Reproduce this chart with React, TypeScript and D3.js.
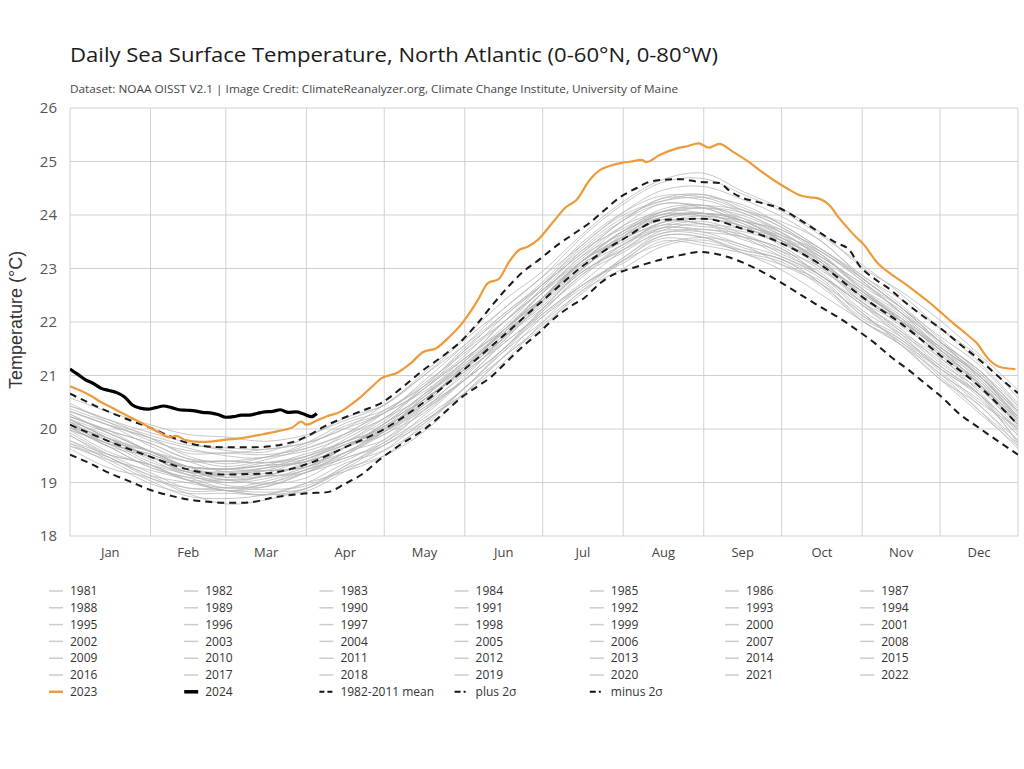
import React from 'react';
import * as d3 from 'd3';

// ---------- axis categories / ticks ----------
const monthLabels = ['Jan', 'Feb', 'Mar', 'Apr', 'May', 'Jun', 'Jul', 'Aug', 'Sep', 'Oct', 'Nov', 'Dec'];
const monthStartDays = [0, 31, 60, 91, 121, 152, 182, 213, 244, 274, 305, 335, 365];
const yTicks = [18, 19, 20, 21, 22, 23, 24, 25, 26];

// ---------- 1982-2011 mean (climatology) ----------
const grayDays = [0, 15, 31, 45, 60, 75, 91, 106, 121, 136, 152, 167, 182, 197, 213, 228, 244, 259, 274, 289, 305, 320, 335, 350, 365];
const meanValues = [20.08, 19.77, 19.48, 19.25, 19.15, 19.17, 19.34, 19.66, 20.0, 20.49, 21.12, 21.75, 22.4, 23.03, 23.55, 23.91, 23.93, 23.74, 23.47, 23.07, 22.47, 21.97, 21.38, 20.8, 20.08];

// ---------- individual years 1981-2022: departure from the mean, read at grayDays ----------
const grayYears = ['1981', '1982', '1983', '1984', '1985', '1986', '1987', '1988', '1989', '1990', '1991', '1992', '1993', '1994', '1995', '1996', '1997', '1998', '1999', '2000', '2001', '2002', '2003', '2004', '2005', '2006', '2007', '2008', '2009', '2010', '2011', '2012', '2013', '2014', '2015', '2016', '2017', '2018', '2019', '2020', '2021', '2022'];
const grayDepartures = [
  [-0.05, -0.1, -0.2, -0.15, -0.25, -0.2, -0.1, -0.15, -0.05, -0.1, -0.2, -0.25, -0.15, -0.1, -0.2, -0.15, -0.05, -0.1, -0.2, -0.15, -0.25, -0.2, -0.1, -0.15, -0.2],
  [-0.2, -0.3, -0.35, -0.4, -0.3, -0.35, -0.45, -0.4, -0.3, -0.35, -0.45, -0.4, -0.3, -0.35, -0.4, -0.45, -0.35, -0.3, -0.4, -0.35, -0.3, -0.4, -0.45, -0.35, -0.4],
  [-0.4, -0.35, -0.25, -0.2, -0.3, -0.25, -0.15, -0.2, -0.3, -0.25, -0.2, -0.15, -0.25, -0.3, -0.2, -0.15, -0.25, -0.3, -0.25, -0.2, -0.3, -0.35, -0.25, -0.2, -0.3],
  [-0.3, -0.35, -0.45, -0.5, -0.45, -0.4, -0.35, -0.45, -0.5, -0.4, -0.35, -0.4, -0.45, -0.5, -0.4, -0.35, -0.45, -0.4, -0.3, -0.35, -0.45, -0.4, -0.35, -0.45, -0.45],
  [-0.45, -0.5, -0.4, -0.45, -0.55, -0.5, -0.45, -0.4, -0.5, -0.55, -0.45, -0.4, -0.5, -0.45, -0.55, -0.5, -0.4, -0.45, -0.5, -0.55, -0.45, -0.4, -0.45, -0.5, -0.4],
  [-0.4, -0.3, -0.35, -0.25, -0.3, -0.4, -0.35, -0.3, -0.4, -0.45, -0.35, -0.3, -0.25, -0.35, -0.4, -0.3, -0.35, -0.45, -0.4, -0.3, -0.35, -0.25, -0.3, -0.35, -0.3],
  [-0.3, -0.25, -0.15, -0.2, -0.25, -0.15, -0.1, -0.2, -0.25, -0.15, -0.2, -0.25, -0.15, -0.1, -0.2, -0.25, -0.2, -0.15, -0.1, -0.2, -0.15, -0.2, -0.25, -0.15, -0.1],
  [-0.1, -0.05, -0.15, -0.2, -0.1, -0.05, -0.15, -0.1, -0.05, -0.15, -0.2, -0.1, -0.05, -0.1, -0.15, -0.05, -0.1, -0.2, -0.15, -0.05, -0.1, -0.15, -0.05, -0.1, -0.15],
  [-0.15, -0.25, -0.3, -0.35, -0.25, -0.3, -0.4, -0.35, -0.25, -0.3, -0.35, -0.25, -0.3, -0.4, -0.35, -0.25, -0.3, -0.35, -0.3, -0.25, -0.35, -0.3, -0.25, -0.3, -0.05],
  [-0.05, 0.0, -0.1, -0.05, 0.05, -0.05, -0.1, 0.0, 0.05, -0.05, -0.1, -0.05, 0.05, 0.0, -0.1, -0.05, 0.0, 0.05, -0.05, -0.1, 0.0, -0.05, 0.05, 0.0, -0.1],
  [-0.1, -0.2, -0.15, -0.1, -0.2, -0.25, -0.15, -0.1, -0.2, -0.15, -0.05, -0.15, -0.2, -0.15, -0.1, -0.2, -0.25, -0.15, -0.1, -0.2, -0.15, -0.25, -0.2, -0.15, -0.35],
  [-0.35, -0.4, -0.5, -0.45, -0.35, -0.4, -0.5, -0.45, -0.4, -0.35, -0.45, -0.5, -0.4, -0.35, -0.45, -0.4, -0.5, -0.45, -0.35, -0.4, -0.45, -0.35, -0.4, -0.45, -0.35],
  [-0.35, -0.3, -0.4, -0.35, -0.3, -0.4, -0.45, -0.35, -0.3, -0.4, -0.35, -0.3, -0.4, -0.45, -0.35, -0.3, -0.35, -0.4, -0.3, -0.35, -0.4, -0.3, -0.35, -0.25, -0.2],
  [-0.2, -0.25, -0.15, -0.2, -0.3, -0.2, -0.15, -0.25, -0.2, -0.1, -0.2, -0.25, -0.2, -0.15, -0.25, -0.2, -0.1, -0.15, -0.25, -0.2, -0.15, -0.1, -0.15, -0.05, 0.0],
  [0.0, 0.05, 0.1, 0.0, -0.05, 0.05, 0.1, 0.05, 0.0, 0.1, 0.15, 0.05, 0.0, 0.1, 0.05, 0.15, 0.2, 0.1, 0.05, 0.0, 0.1, 0.05, 0.0, 0.05, -0.05],
  [-0.05, -0.1, -0.2, -0.15, -0.1, -0.2, -0.25, -0.15, -0.1, -0.2, -0.15, -0.05, -0.15, -0.2, -0.1, -0.15, -0.2, -0.1, -0.15, -0.2, -0.1, -0.15, -0.2, -0.15, -0.1],
  [-0.1, -0.05, 0.0, -0.1, -0.15, -0.05, 0.0, -0.1, -0.05, 0.05, -0.05, -0.1, 0.0, 0.05, -0.05, -0.1, 0.0, 0.05, 0.1, 0.0, -0.05, 0.05, 0.1, 0.05, 0.1],
  [0.15, 0.2, 0.1, 0.15, 0.25, 0.2, 0.1, 0.15, 0.2, 0.1, 0.15, 0.25, 0.2, 0.1, 0.15, 0.2, 0.25, 0.15, 0.1, 0.2, 0.15, 0.1, 0.15, 0.2, 0.1],
  [0.05, 0.0, 0.1, 0.05, -0.05, 0.0, 0.1, 0.05, 0.0, 0.1, 0.05, -0.05, 0.05, 0.1, 0.0, 0.05, 0.1, 0.15, 0.05, 0.0, 0.1, 0.05, 0.0, 0.05, 0.0],
  [-0.05, -0.1, 0.0, -0.05, -0.15, -0.1, -0.05, 0.0, -0.1, -0.05, 0.05, 0.0, -0.1, -0.05, 0.0, -0.1, -0.15, -0.05, 0.0, -0.05, -0.1, 0.0, -0.05, 0.0, 0.05],
  [0.05, 0.1, 0.0, 0.05, 0.1, 0.15, 0.05, 0.0, 0.1, 0.05, 0.0, 0.1, 0.15, 0.05, 0.0, 0.05, 0.1, 0.05, 0.0, 0.1, 0.15, 0.05, 0.1, 0.05, 0.0],
  [0.0, -0.05, 0.05, 0.0, -0.1, -0.05, 0.05, 0.1, 0.0, -0.05, 0.05, 0.1, 0.0, -0.05, 0.05, 0.0, -0.1, 0.0, 0.05, 0.1, 0.0, 0.05, 0.1, 0.05, 0.1],
  [0.1, 0.05, 0.0, 0.05, 0.1, 0.15, 0.2, 0.1, 0.15, 0.25, 0.2, 0.1, 0.15, 0.2, 0.25, 0.15, 0.2, 0.3, 0.2, 0.15, 0.25, 0.2, 0.15, 0.2, 0.15],
  [0.1, 0.05, 0.0, -0.05, 0.05, 0.1, 0.05, 0.0, 0.1, 0.15, 0.05, 0.0, 0.05, 0.1, 0.15, 0.05, 0.1, 0.2, 0.15, 0.05, 0.1, 0.05, 0.15, 0.2, 0.15],
  [0.15, 0.2, 0.25, 0.2, 0.15, 0.25, 0.3, 0.25, 0.2, 0.3, 0.35, 0.25, 0.2, 0.3, 0.35, 0.3, 0.25, 0.35, 0.3, 0.25, 0.3, 0.2, 0.25, 0.3, 0.25],
  [0.25, 0.3, 0.2, 0.15, 0.25, 0.2, 0.15, 0.25, 0.3, 0.2, 0.15, 0.25, 0.2, 0.15, 0.25, 0.3, 0.2, 0.15, 0.25, 0.2, 0.15, 0.2, 0.25, 0.15, 0.1],
  [0.1, 0.05, 0.0, 0.05, 0.1, 0.05, -0.05, 0.0, 0.1, 0.05, 0.0, 0.1, 0.05, -0.05, 0.05, 0.1, 0.05, 0.0, 0.1, 0.05, 0.0, 0.05, 0.1, 0.05, 0.0],
  [0.0, 0.05, 0.1, 0.15, 0.05, 0.1, 0.15, 0.1, 0.05, 0.15, 0.2, 0.1, 0.05, 0.1, 0.15, 0.1, 0.05, 0.15, 0.2, 0.1, 0.05, 0.1, 0.15, 0.1, 0.05],
  [0.05, 0.0, -0.05, -0.1, 0.0, 0.05, -0.05, -0.1, 0.0, 0.05, 0.0, -0.05, 0.05, 0.1, 0.0, -0.05, 0.05, 0.1, 0.05, 0.15, 0.2, 0.25, 0.2, 0.25, 0.3],
  [0.3, 0.35, 0.4, 0.45, 0.5, 0.45, 0.4, 0.35, 0.45, 0.5, 0.45, 0.4, 0.35, 0.45, 0.5, 0.45, 0.4, 0.35, 0.4, 0.45, 0.35, 0.3, 0.25, 0.2, 0.15],
  [0.1, 0.15, 0.1, 0.05, 0.1, 0.2, 0.15, 0.1, 0.2, 0.25, 0.2, 0.15, 0.25, 0.3, 0.2, 0.15, 0.25, 0.2, 0.15, 0.25, 0.3, 0.2, 0.15, 0.2, 0.25],
  [0.25, 0.3, 0.35, 0.25, 0.2, 0.3, 0.35, 0.4, 0.3, 0.25, 0.35, 0.4, 0.3, 0.25, 0.35, 0.4, 0.45, 0.35, 0.3, 0.25, 0.35, 0.3, 0.25, 0.3, 0.25],
  [0.2, 0.15, 0.1, 0.05, 0.1, 0.15, 0.05, 0.0, 0.1, 0.15, 0.1, 0.05, 0.15, 0.2, 0.1, 0.05, 0.1, 0.15, 0.1, 0.05, 0.1, 0.15, 0.1, 0.05, 0.0],
  [0.0, -0.05, 0.05, 0.0, -0.1, -0.05, 0.0, 0.05, -0.05, 0.0, 0.05, 0.1, 0.05, 0.0, 0.1, 0.15, 0.1, 0.05, 0.15, 0.2, 0.1, 0.05, 0.1, 0.15, 0.1],
  [0.1, 0.05, 0.0, -0.05, 0.0, 0.05, -0.05, 0.0, 0.05, 0.0, 0.1, 0.05, 0.0, 0.1, 0.15, 0.1, 0.2, 0.25, 0.2, 0.15, 0.25, 0.3, 0.25, 0.3, 0.35],
  [0.35, 0.4, 0.35, 0.3, 0.4, 0.35, 0.3, 0.25, 0.35, 0.3, 0.25, 0.35, 0.3, 0.25, 0.35, 0.4, 0.35, 0.3, 0.25, 0.3, 0.35, 0.3, 0.25, 0.2, 0.25],
  [0.25, 0.3, 0.35, 0.4, 0.35, 0.3, 0.4, 0.45, 0.35, 0.3, 0.4, 0.35, 0.3, 0.4, 0.45, 0.35, 0.4, 0.45, 0.35, 0.3, 0.4, 0.35, 0.3, 0.25, 0.2],
  [0.2, 0.15, 0.1, 0.05, 0.0, 0.1, 0.05, 0.0, -0.05, 0.05, 0.0, -0.05, 0.05, 0.1, 0.05, 0.0, 0.1, 0.15, 0.05, 0.0, 0.05, 0.1, 0.05, 0.1, 0.15],
  [0.15, 0.2, 0.25, 0.2, 0.25, 0.3, 0.25, 0.2, 0.3, 0.35, 0.3, 0.25, 0.3, 0.35, 0.4, 0.35, 0.45, 0.4, 0.35, 0.3, 0.35, 0.3, 0.35, 0.4, 0.35],
  [0.35, 0.4, 0.45, 0.5, 0.45, 0.4, 0.5, 0.55, 0.45, 0.5, 0.55, 0.5, 0.45, 0.55, 0.65, 0.7, 0.75, 0.65, 0.6, 0.55, 0.6, 0.55, 0.5, 0.45, 0.4],
  [0.4, 0.35, 0.3, 0.35, 0.4, 0.45, 0.4, 0.35, 0.3, 0.4, 0.45, 0.5, 0.45, 0.4, 0.5, 0.55, 0.6, 0.55, 0.5, 0.45, 0.4, 0.45, 0.5, 0.55, 0.5],
  [0.5, 0.55, 0.6, 0.65, 0.7, 0.6, 0.55, 0.5, 0.45, 0.55, 0.6, 0.65, 0.55, 0.6, 0.7, 0.75, 0.85, 0.7, 0.65, 0.6, 0.55, 0.6, 0.65, 0.6, 0.65],
];

// ---------- 2023 ----------
const days2023 = [0, 4, 8, 12, 16, 20, 24, 28, 31, 35, 38, 41, 44, 50, 55, 60, 66, 73, 80, 86, 89, 91, 95, 99, 104, 108, 112, 116, 120, 126, 131, 136, 141, 146, 151, 154, 157, 161, 165, 169, 173, 176, 180, 186, 191, 195, 200, 204, 208, 212, 216, 220, 222, 227, 234, 238, 242, 246, 250, 255, 262, 266, 271, 276, 281, 285, 288, 293, 296, 299, 303, 305, 311, 316, 321, 326, 331, 336, 340, 345, 349, 354, 358, 364];
const values2023 = [20.8, 20.72, 20.62, 20.5, 20.4, 20.3, 20.2, 20.1, 20.02, 19.92, 19.85, 19.87, 19.8, 19.76, 19.77, 19.8, 19.83, 19.89, 19.96, 20.04, 20.14, 20.08, 20.16, 20.24, 20.32, 20.45, 20.6, 20.78, 20.95, 21.05, 21.22, 21.44, 21.51, 21.72, 21.98, 22.18, 22.41, 22.73, 22.8, 23.12, 23.35, 23.4, 23.53, 23.87, 24.15, 24.28, 24.65, 24.84, 24.92, 24.97, 25.0, 25.03, 24.99, 25.12, 25.25, 25.29, 25.34, 25.26, 25.33, 25.19, 24.97, 24.82, 24.65, 24.5, 24.37, 24.33, 24.31, 24.15, 23.95, 23.78, 23.57, 23.48, 23.1, 22.9, 22.73, 22.55, 22.36, 22.15, 21.98, 21.78, 21.61, 21.29, 21.16, 21.12];

// ---------- 2024 ----------
const days2024 = [0, 3, 6, 9, 12, 15, 18, 21, 24, 27, 30, 33, 36, 39, 42, 45, 48, 51, 54, 57, 60, 63, 66, 69, 72, 75, 78, 81, 84, 87, 90, 93, 95];
const values2024 = [21.12, 21.02, 20.92, 20.85, 20.76, 20.72, 20.68, 20.6, 20.45, 20.39, 20.37, 20.4, 20.43, 20.4, 20.36, 20.35, 20.34, 20.31, 20.3, 20.27, 20.22, 20.23, 20.26, 20.26, 20.29, 20.32, 20.33, 20.36, 20.31, 20.32, 20.28, 20.23, 20.29];

// ---------- plus / minus 2 sigma ----------
const plusDays = [0, 15, 31, 47, 59, 71, 86, 92, 98, 106, 113, 120, 128, 136, 144, 151, 157, 162, 168, 174, 181, 188, 194, 200, 206, 212, 218, 223, 229, 235, 242, 250, 254, 258, 265, 273, 281, 289, 295, 300, 304, 310, 316, 322, 329, 336, 342, 350, 357, 365];
const plusValues = [20.66, 20.32, 20.02, 19.72, 19.66, 19.66, 19.76, 19.88, 20.05, 20.22, 20.35, 20.49, 20.78, 21.1, 21.38, 21.66, 21.98, 22.28, 22.62, 22.92, 23.18, 23.45, 23.65, 23.85, 24.1, 24.34, 24.5, 24.62, 24.66, 24.67, 24.62, 24.6, 24.45, 24.34, 24.24, 24.13, 23.91, 23.66, 23.48, 23.35, 23.05, 22.8, 22.6, 22.35, 22.09, 21.85, 21.61, 21.3, 21.0, 20.67];
const minusDays = [0, 8, 15, 23, 31, 39, 47, 53, 59, 65, 71, 78, 86, 92, 99, 106, 112, 119, 127, 136, 144, 151, 157, 162, 168, 174, 181, 187, 193, 198, 204, 209, 214, 220, 227, 235, 243, 248, 253, 261, 266, 272, 280, 289, 296, 303, 310, 316, 323, 329, 336, 342, 350, 358, 365];
const minusValues = [19.52, 19.35, 19.18, 19.02, 18.86, 18.75, 18.67, 18.64, 18.62, 18.62, 18.64, 18.72, 18.77, 18.8, 18.82, 18.98, 19.14, 19.42, 19.7, 19.98, 20.3, 20.6, 20.8, 20.97, 21.25, 21.53, 21.82, 22.09, 22.3, 22.45, 22.72, 22.88, 22.97, 23.06, 23.16, 23.25, 23.31, 23.28, 23.22, 23.07, 22.95, 22.79, 22.55, 22.28, 22.08, 21.85, 21.6, 21.35, 21.1, 20.86, 20.58, 20.3, 20.02, 19.75, 19.52];

const ORANGE = '#ef9a3a';
const FONT = "'Open Sans', 'DejaVu Sans', sans-serif";

export default function App() {
  const x = d3.scaleLinear().domain([0, 365]).range([70, 1018]);
  const y = d3.scaleLinear().domain([18, 26]).range([536, 108]);

  const line = d3
    .line<[number, number]>()
    .x((d) => x(d[0]))
    .y((d) => y(d[1]))
    .curve(d3.curveCatmullRom.alpha(0.5));
  const lineLin = d3
    .line<[number, number]>()
    .x((d) => x(d[0]))
    .y((d) => y(d[1]))
    .curve(d3.curveMonotoneX);

  const zip = (ds: number[], vs: number[]) => ds.map((d, i) => [d, vs[i]] as [number, number]);

  const grayPaths = grayDepartures.map((row) => line(grayDays.map((d, i) => [d, meanValues[i] + row[i]] as [number, number])) || '');

  const legendColX = (c: number) => 70 + c * 135.2;
  const legendRowY = (r: number) => 591 + r * 16.8;

  type LegendItem = { label: string; kind: string };
  const legendItems: LegendItem[] = [
    ...grayYears.map((yr) => ({ label: yr, kind: 'gray' })),
    { label: '2023', kind: '2023' },
    { label: '2024', kind: '2024' },
    { label: '1982-2011 mean', kind: 'mean' },
    { label: 'plus 2σ', kind: 'plus' },
    { label: 'minus 2σ', kind: 'minus' },
  ];

  const symbol = (kind: string, sx: number, sy: number) => {
    const x1 = sx - 21;
    const x2 = sx - 7;
    if (kind === 'gray') return <line x1={x1} x2={x2} y1={sy} y2={sy} stroke="#cccccc" strokeWidth={1.5} />;
    if (kind === '2023') return <line x1={x1} x2={x2} y1={sy} y2={sy} stroke={ORANGE} strokeWidth={2.5} />;
    if (kind === '2024') return <line x1={x1} x2={x2} y1={sy} y2={sy} stroke="#000" strokeWidth={3.5} />;
    if (kind === 'mean') return <line x1={x1} x2={x2} y1={sy} y2={sy} stroke="#111" strokeWidth={2} strokeDasharray="5,3" />;
    return <line x1={x1} x2={x2} y1={sy} y2={sy} stroke="#111" strokeWidth={2} strokeDasharray="6,3,2,3" />;
  };

  return (
    <svg width={1024} height={769} style={{ position: 'absolute', left: 0, top: 0, background: '#fff' }} fontFamily={FONT}>
      <rect x={0} y={0} width={1024} height={769} fill="#fff" />
      {/* title */}
      <text x={70} y={62} fontSize={20} fontWeight={500} fill="#1a1a1a" textLength={648} lengthAdjust="spacingAndGlyphs">
        Daily Sea Surface Temperature, North Atlantic (0-60°N, 0-80°W)
      </text>
      <text x={70} y={93} fontSize={11} fill="#444" textLength={608} lengthAdjust="spacingAndGlyphs">
        Dataset: NOAA OISST V2.1 | Image Credit: ClimateReanalyzer.org, Climate Change Institute, University of Maine
      </text>

      {/* grid */}
      {yTicks.map((t) => (
        <line key={'h' + t} x1={70} x2={1018} y1={y(t)} y2={y(t)} stroke="#d0d0d0" strokeWidth={1} />
      ))}
      {monthStartDays.map((d) => (
        <line key={'v' + d} x1={x(d)} x2={x(d)} y1={y(26)} y2={y(18)} stroke="#d0d0d0" strokeWidth={1} />
      ))}

      {/* y tick labels */}
      {yTicks.map((t) => (
        <text key={'yl' + t} x={57} y={y(t)} dy="0.35em" textAnchor="end" fontSize={15} fill="#555">
          {t}
        </text>
      ))}
      <text
        transform={`translate(22, 320) rotate(-90)`}
        textAnchor="middle"
        fontSize={18}
        fill="#333"
        fontFamily="'Liberation Sans', Arial, sans-serif"
      >
        Temperature (°C)
      </text>

      {/* month labels */}
      {monthLabels.map((m, i) => (
        <text key={m} x={(x(monthStartDays[i]) + x(monthStartDays[i + 1])) / 2} y={557} textAnchor="middle" fontSize={13} fill="#444">
          {m}
        </text>
      ))}

      <defs>
        <clipPath id="plotClip">
          <rect x={70} y={100} width={948} height={440} />
        </clipPath>
      </defs>

      <g clipPath="url(#plotClip)">
        {grayPaths.map((p, i) => (
          <path key={grayYears[i]} d={p} fill="none" stroke="#b4b4b4" strokeWidth={1} strokeOpacity={0.75} />
        ))}
        <path d={lineLin(zip(plusDays, plusValues)) || ''} fill="none" stroke="#1a1a1a" strokeWidth={2} strokeDasharray="7,5" />
        <path d={lineLin(zip(grayDays, meanValues)) || ''} fill="none" stroke="#1a1a1a" strokeWidth={2} strokeDasharray="7,5" />
        <path d={lineLin(zip(minusDays, minusValues)) || ''} fill="none" stroke="#1a1a1a" strokeWidth={2} strokeDasharray="7,5" />
        <path d={lineLin(zip(days2023, values2023)) || ''} fill="none" stroke={ORANGE} strokeWidth={2.2} strokeLinejoin="round" />
        <path d={lineLin(zip(days2024, values2024)) || ''} fill="none" stroke="#000" strokeWidth={3.2} strokeLinejoin="round" />
      </g>

      {/* legend */}
      {legendItems.map((it, i) => {
        const c = i % 7;
        const r = Math.floor(i / 7);
        const lx = legendColX(c);
        const ly = legendRowY(r);
        return (
          <g key={'lg' + i}>
            {symbol(it.kind, lx, ly)}
            <text x={lx} y={ly} dy="0.35em" fontSize={12} fill="#333">
              {it.label}
            </text>
          </g>
        );
      })}
    </svg>
  );
}
